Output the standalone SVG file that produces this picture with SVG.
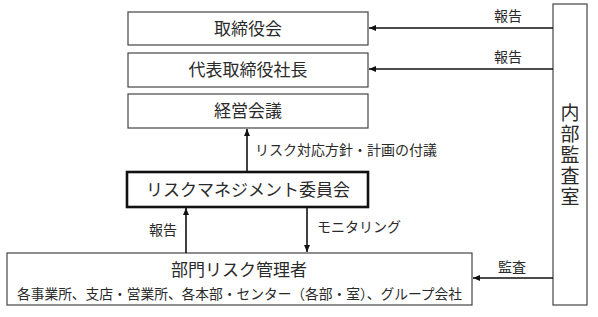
<svg xmlns="http://www.w3.org/2000/svg" width="598" height="317" viewBox="0 0 598 317">
<defs>
<marker id="ah" markerWidth="8" markerHeight="8" refX="7" refY="4" orient="auto" markerUnits="userSpaceOnUse">
<path d="M0,1 L7,4 L0,7 Z" fill="#111"/>
</marker>
<style>
.box{fill:#fff;stroke:#444;stroke-width:1.2}
.thick{fill:#fff;stroke:#111;stroke-width:2.6}
.t{font-family:"Noto Sans CJK JP","Noto Sans CJK SC",sans-serif;fill:#2a2a2a}
.title{font-size:17px;text-anchor:middle}
.lbl{font-size:14px}
.line{stroke:#111;stroke-width:1.6;fill:none;marker-end:url(#ah)}
</style>
</defs>
<rect width="598" height="317" fill="#fff"/>
<g id="board">
<rect class="box" x="128" y="12" width="240" height="33"/>
<text class="t title" x="248" y="34.5">取締役会</text>
</g>
<g id="president">
<rect class="box" x="128" y="53" width="240" height="34"/>
<text class="t title" x="248" y="76">代表取締役社長</text>
</g>
<g id="management">
<rect class="box" x="128" y="94" width="240" height="34"/>
<text class="t title" x="248" y="117">経営会議</text>
</g>
<g id="committee">
<rect class="thick" x="127" y="172" width="241" height="35"/>
<text class="t title" x="248" y="196">リスクマネジメント委員会</text>
</g>
<g id="dept">
<rect class="box" x="7" y="253" width="465" height="52"/>
<text class="t title" x="239" y="276">部門リスク管理者</text>
<text class="t" x="17" y="299" font-size="14" textLength="445" lengthAdjust="spacingAndGlyphs">各事業所、支店・営業所、各本部・センター（各部・室）、グループ会社</text>
</g>
<g id="audit">
<rect class="box" x="553" y="4" width="34" height="301"/>
<text class="t" font-size="19" x="570" y="103" style="writing-mode:vertical-rl;letter-spacing:2px">内部監査室</text>
</g>
<g id="connectors">
<line class="line" x1="553" y1="28" x2="369" y2="28"/>
<text class="t lbl" x="508" y="21" text-anchor="middle">報告</text>
<line class="line" x1="553" y1="69" x2="369" y2="69"/>
<text class="t lbl" x="508" y="62" text-anchor="middle">報告</text>
<line class="line" x1="247" y1="172" x2="247" y2="129"/>
<text class="t lbl" x="255" y="155" font-size="14.5">リスク対応方針・計画の付議</text>
<line class="line" x1="186" y1="253" x2="186" y2="208"/>
<text class="t lbl" x="163" y="235" text-anchor="middle">報告</text>
<line class="line" x1="307" y1="207" x2="307" y2="252"/>
<text class="t lbl" x="317" y="232">モニタリング</text>
<line class="line" x1="553" y1="278" x2="473" y2="278"/>
<text class="t lbl" x="512" y="272" text-anchor="middle">監査</text>
</g>
</svg>
